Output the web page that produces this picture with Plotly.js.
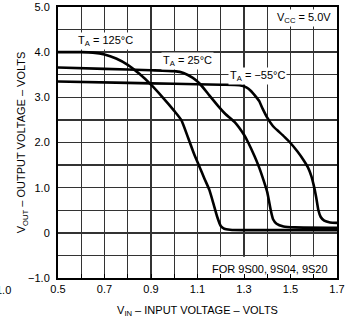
<!DOCTYPE html>
<html>
<head>
<meta charset="utf-8">
<script src="https://cdn.plot.ly/plotly-3.0.1.min.js"></script>
<style>html,body{margin:0;padding:0;background:#fff;}#chart{width:359px;height:321px;}</style>
</head>
<body>
<div id="chart"></div>
<script>
// Input voltage (V) and output voltage (V) for each ambient temperature
const vin125 = [0.5, 0.6, 0.65, 0.7, 0.75, 0.8, 0.85, 0.9, 0.95, 1.0, 1.03, 1.06, 1.085, 1.108, 1.13, 1.151, 1.17, 1.185, 1.2, 1.215, 1.24, 1.3, 1.7];
const vout125 = [4.0, 4.0, 3.99, 3.95, 3.86, 3.72, 3.52, 3.28, 3.0, 2.7, 2.5, 2.1, 1.75, 1.47, 1.2, 0.95, 0.62, 0.35, 0.15, 0.09, 0.07, 0.06, 0.06];

const vin25 = [0.5, 0.7, 0.9, 1.0, 1.04, 1.08, 1.11, 1.15, 1.19, 1.22, 1.26, 1.3, 1.318, 1.345, 1.365, 1.385, 1.4, 1.415, 1.425, 1.44, 1.47, 1.52, 1.7];
const vout25 = [3.66, 3.63, 3.6, 3.58, 3.54, 3.43, 3.3, 3.05, 2.8, 2.63, 2.45, 2.17, 2.0, 1.7, 1.45, 1.15, 0.9, 0.5, 0.3, 0.2, 0.14, 0.12, 0.11];

const vinM55 = [0.5, 0.8, 1.0, 1.2, 1.28, 1.31, 1.33, 1.35, 1.365, 1.38, 1.40, 1.425, 1.45, 1.475, 1.498, 1.53, 1.555, 1.575, 1.59, 1.6, 1.61, 1.62, 1.63, 1.645, 1.67, 1.7];
const voutM55 = [3.35, 3.32, 3.3, 3.28, 3.27, 3.22, 3.14, 3.02, 2.92, 2.75, 2.55, 2.36, 2.24, 2.12, 2.0, 1.8, 1.62, 1.45, 1.25, 1.05, 0.8, 0.5, 0.35, 0.27, 0.23, 0.22];

const xTickVals = [0.5, 0.7, 0.9, 1.1, 1.3, 1.5, 1.7];
const xTickText = ["0.5", "0.7", "0.9", "1.1", "1.3", "1.5", "1.7"];
const yTickVals = [-1, 0, 1, 2, 3, 4, 5];
const yTickText = ["\u22121.0", "0", "1.0", "2.0", "3.0", "4.0", "5.0"];

const curveLabels = ["T<sub>A</sub> = 125°C", "T<sub>A</sub> = 25°C", "T<sub>A</sub> = \u221255°C"];

const lineStyle = {color: "#000", width: 2.6, shape: "spline", smoothing: 0.5};
const traces = [
  {x: vin125, y: vout125, mode: "lines", line: lineStyle, hoverinfo: "skip"},
  {x: vin25, y: vout25, mode: "lines", line: lineStyle, hoverinfo: "skip"},
  {x: vinM55, y: voutM55, mode: "lines", line: lineStyle, hoverinfo: "skip"}
];

const gridColor = "#333";
const font = {family: "Liberation Sans, Arial, Helvetica, sans-serif", size: 11, color: "#000"};

const layout = {
  width: 359, height: 321,
  margin: {l: 58, r: 22, t: 7, b: 43},
  paper_bgcolor: "#fff", plot_bgcolor: "#fff",
  showlegend: false,
  font: font,
  xaxis: {
    range: [0.5, 1.7], tickvals: xTickVals, ticktext: xTickText,
    showgrid: true, gridcolor: gridColor, gridwidth: 1.4,
    minor: {dtick: 0.1, tick0: 0.5, showgrid: true, gridcolor: gridColor, gridwidth: 1.4, ticks: "inside", ticklen: 4, tickcolor: "#000"},
    ticks: "inside", ticklen: 4, tickcolor: "#000",
    showline: true, mirror: true, linecolor: "#000", linewidth: 2,
    zeroline: false, fixedrange: true,
    tickfont: font,
    title: {text: "V<sub>IN</sub> \u2013 INPUT VOLTAGE \u2013 VOLTS", font: font, standoff: 12}
  },
  yaxis: {
    range: [-1, 5], tickvals: yTickVals, ticktext: yTickText,
    showgrid: true, gridcolor: gridColor, gridwidth: 1.4,
    minor: {dtick: 0.5, tick0: 0, showgrid: true, gridcolor: gridColor, gridwidth: 1.4},
    showline: true, mirror: true, linecolor: "#000", linewidth: 2,
    zeroline: false, fixedrange: true,
    ticks: "", ticklabelstandoff: 4,
    tickfont: font,
    title: {text: "V<sub>OUT</sub> \u2013 OUTPUT VOLTAGE \u2013 VOLTS", font: font, standoff: 0}
  },
  shapes: [
    {type: "rect", xref: "x", yref: "y", x0: 1.165, x1: 1.7, y0: -1, y1: -0.53,
     fillcolor: "#fff", line: {width: 0}, layer: "between"}
  ],
  annotations: [
    {x: 0.704, y: 4.24, xref: "x", yref: "y", text: curveLabels[0], showarrow: false, bgcolor: "#fff", font: font},
    {x: 1.055, y: 3.80, xref: "x", yref: "y", text: curveLabels[1], showarrow: false, bgcolor: "#fff", font: font},
    {x: 1.358, y: 3.47, xref: "x", yref: "y", text: curveLabels[2], showarrow: false, bgcolor: "#fff", font: font},
    {x: 1.56, y: 4.76, xref: "x", yref: "y", text: "V<sub>CC</sub> = 5.0V", showarrow: false, bgcolor: "#fff", font: font},
    {x: 1.41, y: -0.79, xref: "x", yref: "y", text: "FOR 9S00, 9S04, 9S20", showarrow: false, font: font},
    {x: -0.162, y: -0.015, yanchor: "top", xref: "paper", yref: "paper", xanchor: "right", text: "1.0", showarrow: false, font: font}
  ]
};

Plotly.newPlot("chart", traces, layout, {staticPlot: true, displayModeBar: false});
</script>
</body>
</html>
